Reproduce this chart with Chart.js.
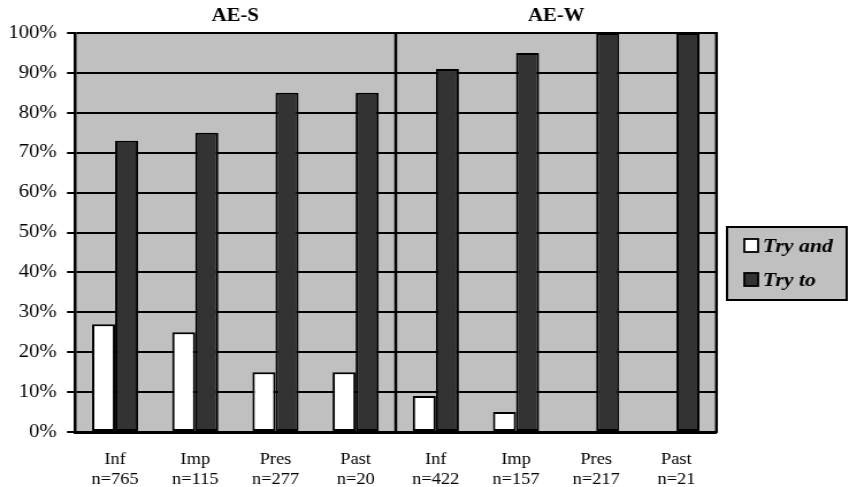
<!DOCTYPE html>
<html>
<head>
<meta charset="utf-8">
<script src="https://cdn.jsdelivr.net/npm/chart.js@4.4.1/dist/chart.umd.min.js"></script>
<style>
html,body{margin:0;padding:0;background:#fff;}
canvas{display:block;}
</style>
</head>
<body>
<canvas id="c" width="738" height="487" style="width:849px;height:487px"></canvas>
<script>
const categories = ["Inf", "Imp", "Pres", "Past", "Inf", "Imp", "Pres", "Past"];
const sampleSizes = ["n=765", "n=115", "n=277", "n=20", "n=422", "n=157", "n=217", "n=21"];
const groupTitles = ["AE-S", "AE-W"];
const seriesNames = ["Try and", "Try to"];
const tryAnd = [27, 25, 15, 15, 9, 5, 0, 0];
const tryTo = [73, 75, 85, 85, 91, 95, 100, 100];
const yTicks = [0, 10, 20, 30, 40, 50, 60, 70, 80, 90, 100];

const SERIF = '"Liberation Serif", "Times New Roman", serif';
const GRAY = '#c0c0c0';
const DARK = '#333333';

const labels = categories.map((c, i) => [c, sampleSizes[i]]);

const decor = {
  id: 'decor',
  beforeDraw(chart) {
    const {ctx, chartArea: a} = chart;
    ctx.save();
    ctx.fillStyle = GRAY;
    ctx.fillRect(a.left, a.top, a.right - a.left, a.bottom - a.top);
    ctx.restore();
  },
  beforeDatasetsDraw(chart) {
    const {ctx, chartArea: a, scales} = chart;
    const x = scales.x;
    const half = categories.length / 2;
    const divX = x.getPixelForValue(half - 0.5);
    ctx.save();
    ctx.strokeStyle = '#000';
    ctx.lineWidth = 2.5;
    ctx.beginPath();
    ctx.moveTo(divX, a.top);
    ctx.lineTo(divX, a.bottom);
    ctx.moveTo(a.right, a.top - 1);
    ctx.lineTo(a.right, a.bottom + 1);
    ctx.stroke();
    ctx.restore();
  },
  afterDraw(chart) {
    const {ctx, chartArea: a, scales} = chart;
    const x = scales.x;
    const half = categories.length / 2;
    const divX = x.getPixelForValue(half - 0.5);
    ctx.save();
    ctx.fillStyle = '#000';
    ctx.font = 'bold 18px ' + SERIF;
    ctx.textAlign = 'center';
    ctx.textBaseline = 'alphabetic';
    ctx.fillText(groupTitles[0], (a.left + divX) / 2, 21);
    ctx.fillText(groupTitles[1], (divX + a.right) / 2, 21);

    const bx = 632, by = 227, bw = 104, bh = 73;
    ctx.fillStyle = GRAY;
    ctx.fillRect(bx, by, bw, bh);
    ctx.strokeStyle = '#000';
    ctx.lineWidth = 2;
    ctx.strokeRect(bx, by, bw, bh);
    const rows = [252, 286];
    ctx.font = 'italic bold 19px ' + SERIF;
    ctx.textAlign = 'left';
    chart.data.datasets.forEach((ds, i) => {
      const base = rows[i];
      ctx.fillStyle = ds.backgroundColor;
      ctx.fillRect(647, base - 13, 12, 13);
      ctx.lineWidth = 1.8;
      ctx.strokeStyle = '#000';
      ctx.strokeRect(647, base - 13, 12, 13);
      ctx.fillStyle = '#000';
      ctx.fillText(ds.label, 663, base);
    });
    ctx.restore();
  }
};

new Chart(document.getElementById('c'), {
  type: 'bar',
  data: {
    labels: labels,
    datasets: [
      {
        label: seriesNames[0],
        data: tryAnd,
        backgroundColor: '#ffffff',
        borderColor: '#000000',
        borderWidth: 2,
        borderSkipped: false,
        barPercentage: 1,
        categoryPercentage: 0.575
      },
      {
        label: seriesNames[1],
        data: tryTo,
        backgroundColor: DARK,
        borderColor: '#000000',
        borderWidth: 2,
        borderSkipped: false,
        barPercentage: 1,
        categoryPercentage: 0.575
      }
    ]
  },
  options: {
    responsive: false,
    animation: false,
    devicePixelRatio: 1,
    layout: {padding: {top: 33, right: 115.2, left: 0, bottom: 0}},
    plugins: {
      legend: {display: false},
      tooltip: {enabled: false},
      title: {display: false}
    },
    scales: {
      x: {
        grid: {display: false, drawTicks: false, tickLength: 0},
        border: {display: true, color: '#000', width: 3},
        ticks: {
          color: '#000',
          font: {family: SERIF, size: 16, lineHeight: 1.25},
          padding: 18,
          maxRotation: 0,
          minRotation: 0,
          autoSkip: false
        },
        afterFit(scale) { scale.height = 55; }
      },
      y: {
        min: 0,
        max: 100,
        afterBuildTicks(scale) { scale.ticks = yTicks.map(v => ({value: v})); },
        grid: {color: '#000', lineWidth: 2, drawTicks: true, tickLength: 7},
        border: {display: true, color: '#000', width: 2.5},
        ticks: {
          color: '#000',
          font: {family: SERIF, size: 18},
          padding: 9,
          callback: v => v + '%'
        },
        afterFit(scale) { scale.width = 65.2; }
      }
    }
  },
  plugins: [decor]
});
</script>
</body>
</html>
